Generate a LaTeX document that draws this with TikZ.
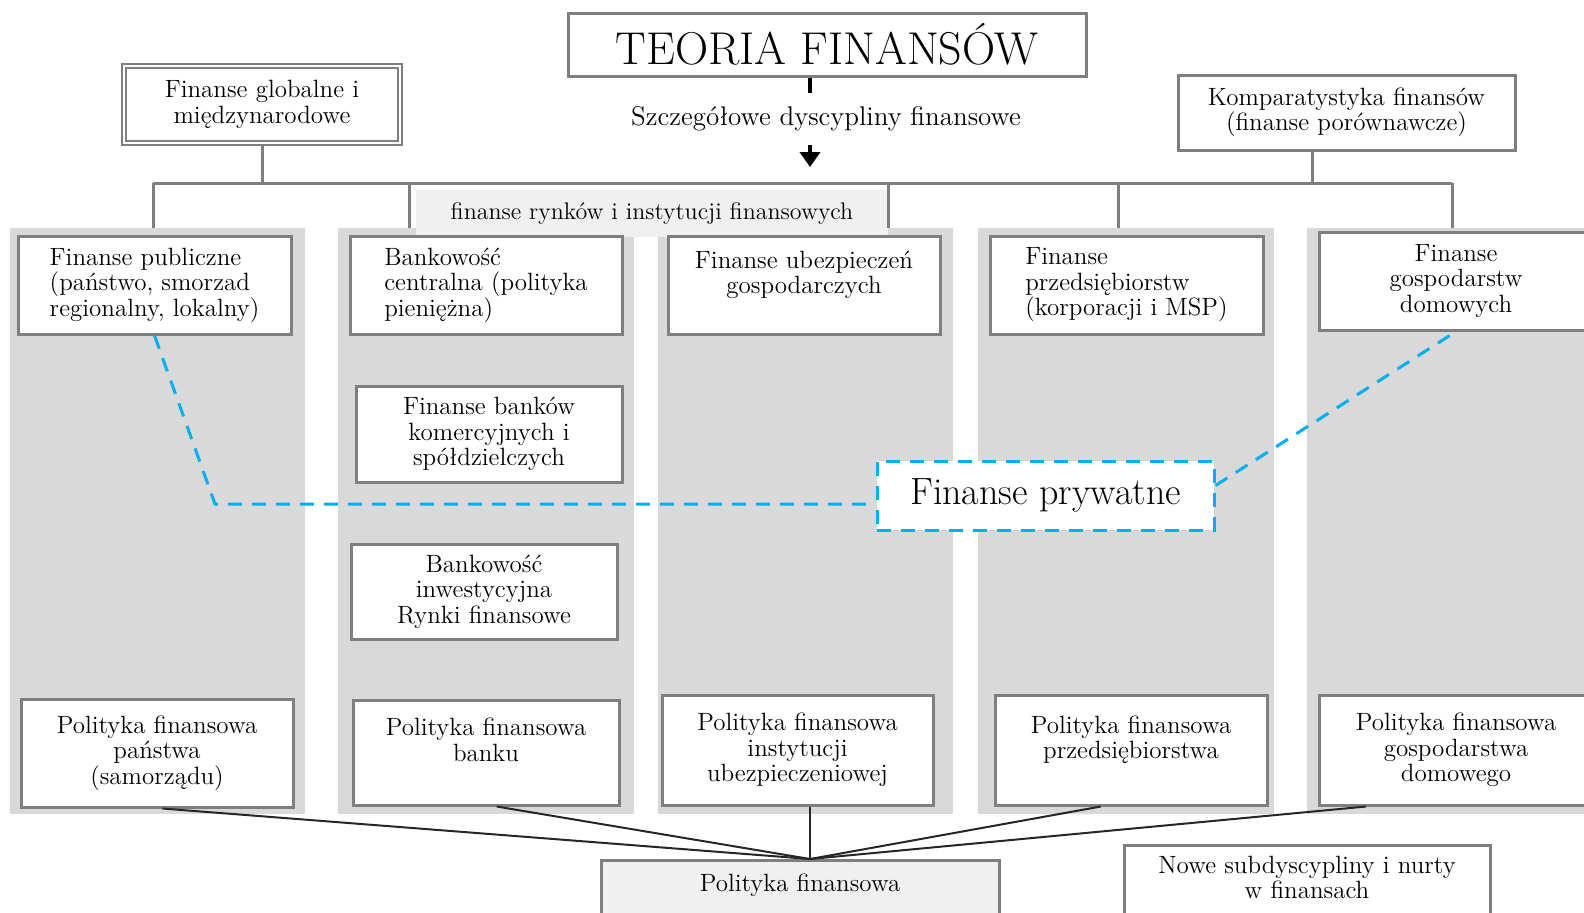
\documentclass[tikz,border=0pt]{standalone}
\usepackage{tikz}
\usetikzlibrary{arrows.meta, positioning, calc}
\definecolor{boxgray}{RGB}{127,127,127}
\definecolor{colgray}{RGB}{217,217,217}
\definecolor{bandgray}{RGB}{240,240,240}
\definecolor{privblue}{RGB}{0,176,240}
\newcommand{\bodyfont}{\fontsize{12.5pt}{12.75pt}\selectfont}

\begin{document}
\begin{tikzpicture}[x=0.5pt, y=-0.5pt,
    box/.style={rectangle, draw=boxgray, line width=1.5pt, fill=white, align=center,
                font=\bodyfont, inner sep=0pt},
    leftbox/.style={box, align=left},
    column/.style={rectangle, fill=colgray, minimum height=293pt, inner sep=0pt},
    tree/.style={draw=boxgray, line width=1.5pt},
    policy/.style={draw=black!85, line width=1pt},
    private/.style={draw=privblue, line width=1.5pt, dash pattern=on 7pt off 5pt},
]
    \useasboundingbox (0,0) rectangle (1584,912);

    % grey columns and the market band
    \node[column, minimum width=147.5pt] (col1) at (157.5,521) {};
    \node[column, minimum width=148pt]   (col2) at (486,521) {};
    \node[column, minimum width=147.5pt] (col3) at (805.5,521) {};
    \node[column, minimum width=148pt]   (col4) at (1126,521) {};
    \node[column, minimum width=146.5pt] (col5) at (1453.5,521) {};
    \node[rectangle, fill=bandgray, minimum width=236pt, minimum height=23.5pt, inner sep=0pt,
          font=\fontsize{12pt}{12pt}\selectfont] (band) at (652,213.5)
          {finanse rynków i instytucji finansowych};

    % top
    \node[box, minimum width=259pt, minimum height=31.5pt, font=\fontsize{23pt}{26pt}\selectfont]
        (teoria) at (827,44.5) {TEORIA FINANSÓW};
    \node[font=\fontsize{13.5pt}{14pt}\selectfont, minimum height=26pt, inner sep=0pt] (lab) at (826,119)
        {Szczegółowe dyscypliny finansowe};
    \node[box, double=white, double distance=1.2pt, line width=0.7pt,
          minimum width=138pt, minimum height=38.5pt] (glob) at (262,104.5)
        {Finanse globalne i\\międzynarodowe};
    \node[box, minimum width=168.5pt, minimum height=37.5pt] (komp) at (1346.5,112.5)
        {Komparatystyka finansów\\(finanse porównawcze)};

    \coordinate (barL) at (153,183);
    \coordinate (barR) at (1452,183);
    \coordinate (drop) at (810,183);

    \draw[black, line width=2pt] (teoria.south -| drop) -- (lab.north -| drop);
    \draw[black, line width=2pt, -{Triangle[length=7.5pt, width=10pt]}, shorten >=8pt]
        (lab.south -| drop) -- (drop);

    % tree of disciplines
    \draw[tree] (barL) -- (barR);
    \draw[tree] (glob.south) -- (glob.south |- barL);
    \draw[tree] ($(komp.south west)!0.4!(komp.south east)$) -- ++(0,33);
    \draw[tree] (barL) -- (barL |- col1.north);
    \draw[tree] (409,183) -- (409,228);
    \draw[tree] (band.north east |- barL) -- (band.north east |- col3.north);
    \draw[tree] (1118,183) -- (1118,228);
    \draw[tree] (barR) -- (barR |- col5.north);

    % first row
    \node[leftbox, minimum width=136.5pt, minimum height=49pt] (pub) at (154.5,285)
        {Finanse publiczne\\(państwo, smorzad\\regionalny, lokalny)};
    \node[leftbox, minimum width=136pt, minimum height=49pt] (cb) at (486,285)
        {Bankowość\\centralna (polityka\\pieniężna)};
    \node[box, minimum width=136pt, minimum height=49pt] (ubez) at (804,285)
        {Finanse ubezpieczeń\\gospodarczych\\\mbox{}};
    \node[leftbox, minimum width=136.5pt, minimum height=49pt] (przeds) at (1126.5,285)
        {Finanse\\przedsiębiorstw\\(korporacji i MSP)};
    \node[box, minimum width=137pt, minimum height=49pt] (gosp) at (1456,281)
        {Finanse\\gospodarstw\\domowych};

    % banking column
    \node[box, minimum width=133pt, minimum height=48pt] (banki) at (489,434)
        {Finanse banków\\komercyjnych i\\spółdzielczych};
    \node[box, minimum width=133pt, minimum height=47.5pt] (inwest) at (484,591.5)
        {Bankowość\\inwestycyjna\\Rynki finansowe};

    % private finance
    \node[box, draw=privblue, dash pattern=on 7pt off 5pt, minimum width=168.5pt,
          minimum height=34.5pt, font=\fontsize{19pt}{22pt}\selectfont] (pryw) at (1045.5,495.5)
        {\raisebox{3pt}{Finanse prywatne}};
    \coordinate (bend) at (215,504);
    \draw[private] (pub.south) -- (bend) -- (bend -| pryw.west);
    \draw[private] ($(pryw.east)+(0,-10)$) -- (gosp.south);

    % policies
    \node[box, minimum width=136pt, minimum height=54pt] (pp) at (157,753)
        {Polityka finansowa\\państwa\\(samorządu)};
    \node[box, minimum width=133pt, minimum height=52.5pt] (pb) at (486,752.5)
        {Polityka finansowa\\banku\\\mbox{}};
    \node[box, minimum width=135.5pt, minimum height=55pt] (pu) at (797.5,750)
        {Polityka finansowa\\instytucji\\ubezpieczeniowej};
    \node[box, minimum width=136pt, minimum height=55pt] (pprz) at (1131,750)
        {Polityka finansowa\\przedsiębiorstwa\\\mbox{}};
    \node[box, minimum width=137pt, minimum height=55pt] (pg) at (1456,750)
        {Polityka finansowa\\gospodarstwa\\domowego};

    \node[box, fill=bandgray, minimum width=199pt, minimum height=35pt] (polf) at (800,895)
        {Polityka finansowa\\\mbox{}};
    \node[box, minimum width=183pt, minimum height=45pt] (nowe) at (1307,890)
        {Nowe subdyscypliny i nurty\\w finansach\\\mbox{}};

    \coordinate (hub) at (810,859);
    \draw[policy] ($(pp.south west)!0.52!(pp.south east)$) -- (hub);
    \draw[policy] ($(pb.south west)!0.54!(pb.south east)$) -- (hub);
    \draw[policy] (pu.south -| hub) -- (hub);
    \draw[policy] ($(pprz.south west)!0.39!(pprz.south east)$) -- (hub);
    \draw[policy] ($(pg.south west)!0.175!(pg.south east)$) -- (hub);
\end{tikzpicture}
\end{document}
